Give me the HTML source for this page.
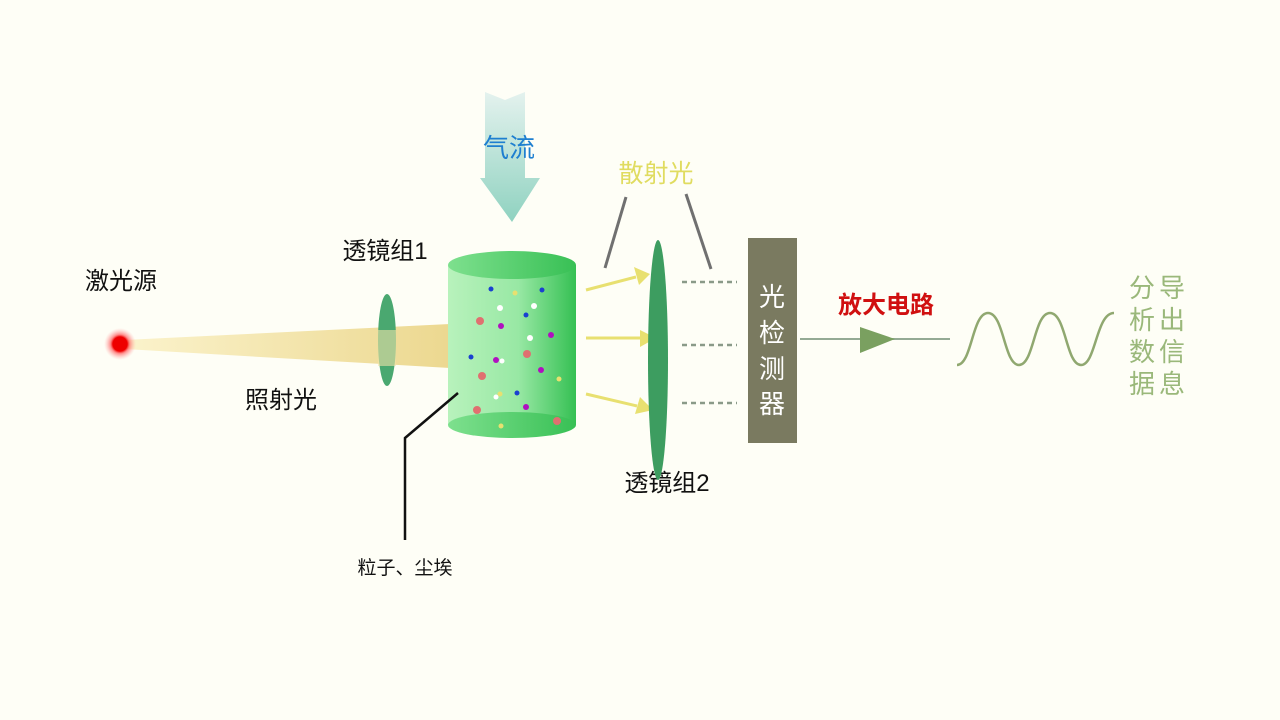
<!DOCTYPE html>
<html><head><meta charset="utf-8"><style>
html,body{margin:0;padding:0;background:#fefef6;}
svg{display:block}
text{font-family:"Liberation Sans","Noto Sans CJK SC",sans-serif;}
</style></head><body>
<svg width="1280" height="720" viewBox="0 0 1280 720" xmlns="http://www.w3.org/2000/svg">
<defs>
<linearGradient id="air" x1="0" y1="0" x2="0" y2="1"><stop offset="0" stop-color="#e4f2ee"/><stop offset="1" stop-color="#8fd2c0"/></linearGradient>
<linearGradient id="beam" x1="0" y1="0" x2="1" y2="0"><stop offset="0" stop-color="#fbf3cc"/><stop offset="1" stop-color="#ecd890"/></linearGradient>
<linearGradient id="cyl" x1="0" y1="0" x2="1" y2="0"><stop offset="0" stop-color="#b8f2bc"/><stop offset="0.55" stop-color="#98e8a4"/><stop offset="1" stop-color="#35c053"/></linearGradient>
<linearGradient id="cyltop" x1="0" y1="0" x2="1" y2="0"><stop offset="0" stop-color="#7ee08e"/><stop offset="1" stop-color="#38c055"/></linearGradient>
<radialGradient id="glow"><stop offset="0.45" stop-color="#ee0000"/><stop offset="0.6" stop-color="#ff6060" stop-opacity="0.7"/><stop offset="1" stop-color="#ffb0b0" stop-opacity="0"/></radialGradient>
</defs>
<path d="M485,92 L505,100 L525,92 L525,178 L540,178 L512,222 L480,178 L485,178 Z" fill="url(#air)"/>
<text x="509" y="157" font-size="26" fill="#1e7fd0" text-anchor="middle">气流</text>
<text x="121" y="289" font-size="24" fill="#111" text-anchor="middle">激光源</text>
<text x="385" y="259" font-size="24" fill="#111" text-anchor="middle">透镜组1</text>
<text x="281" y="408" font-size="24" fill="#111" text-anchor="middle">照射光</text>
<text x="667" y="491" font-size="24" fill="#111" text-anchor="middle">透镜组2</text>
<text x="405" y="574" font-size="19" fill="#111" text-anchor="middle">粒子、尘埃</text>
<polygon points="124,340 450,324 450,368 124,349" fill="url(#beam)"/>
<circle cx="120" cy="344" r="16" fill="url(#glow)"/>
<ellipse cx="387" cy="340" rx="9" ry="46" fill="#4aa870"/>
<rect x="378" y="330" width="18" height="36" fill="#f0e2a8" opacity="0.6"/>
<rect x="448" y="265" width="128" height="160" fill="url(#cyl)"/>
<ellipse cx="512" cy="425" rx="64" ry="13" fill="url(#cyltop)"/>
<ellipse cx="512" cy="265" rx="64" ry="14" fill="url(#cyltop)"/>
<g>
<circle cx="491" cy="289" r="2.5" fill="#1a40d0"/><circle cx="515" cy="293" r="2.5" fill="#e8e070"/>
<circle cx="542" cy="290" r="2.5" fill="#1a40d0"/><circle cx="500" cy="308" r="3" fill="#fff"/>
<circle cx="534" cy="306" r="3" fill="#fff"/><circle cx="526" cy="315" r="2.5" fill="#1a40d0"/>
<circle cx="480" cy="321" r="4" fill="#e07070"/><circle cx="501" cy="326" r="3" fill="#b010c0"/>
<circle cx="530" cy="338" r="3" fill="#fff"/><circle cx="551" cy="335" r="3" fill="#b010c0"/>
<circle cx="471" cy="357" r="2.5" fill="#1a40d0"/><circle cx="496" cy="360" r="3" fill="#b010c0"/>
<circle cx="502" cy="361" r="2.5" fill="#fff"/><circle cx="527" cy="354" r="4" fill="#e07070"/>
<circle cx="482" cy="376" r="4" fill="#e07070"/><circle cx="541" cy="370" r="3" fill="#b010c0"/>
<circle cx="559" cy="379" r="2.5" fill="#e8e070"/><circle cx="500" cy="394" r="2.5" fill="#e8e070"/>
<circle cx="496" cy="397" r="2.5" fill="#fff"/><circle cx="517" cy="393" r="2.5" fill="#1a40d0"/>
<circle cx="477" cy="410" r="4" fill="#e07070"/><circle cx="526" cy="407" r="3" fill="#b010c0"/>
<circle cx="557" cy="421" r="4" fill="#e07070"/><circle cx="501" cy="426" r="2.5" fill="#e8e070"/>
</g>
<polyline points="458,393 405,438 405,540" fill="none" stroke="#111" stroke-width="2.5"/>
<g stroke="#e8e070" stroke-width="3" fill="#e8e070">
<line x1="586" y1="290" x2="636" y2="277"/><polygon points="634,267 650,274 639,285" stroke="none"/>
<line x1="586" y1="338" x2="640" y2="338"/><polygon points="640,330 656,338 640,347" stroke="none"/>
<line x1="586" y1="394" x2="637" y2="406"/><polygon points="640,397 653,410 635,414" stroke="none"/>
</g>
<ellipse cx="658" cy="360" rx="10" ry="120" fill="#3d9d60"/>
<g stroke="#8a9a88" stroke-width="2.5" stroke-dasharray="5,4">
<line x1="682" y1="282" x2="737" y2="282"/><line x1="682" y1="345" x2="737" y2="345"/><line x1="682" y1="403" x2="737" y2="403"/>
</g>
<g stroke="#707070" stroke-width="3"><line x1="626" y1="197" x2="605" y2="268"/><line x1="686" y1="194" x2="711" y2="269"/></g>
<text x="656" y="182" font-size="25" fill="#e0dc60" text-anchor="middle">散射光</text>
<rect x="748" y="238" width="49" height="205" fill="#7a7a60"/>
<g font-size="26" fill="#fff" text-anchor="middle">
<text x="772" y="306">光</text><text x="772" y="342">检</text><text x="772" y="378">测</text><text x="772" y="413">器</text>
</g>
<line x1="800" y1="339" x2="950" y2="339" stroke="#94aa94" stroke-width="2"/>
<polygon points="860,327 860,353 895,339" fill="#7aa060"/>
<text x="886" y="313" font-size="24" font-weight="bold" fill="#d01010" text-anchor="middle">放大电路</text>
<path d="M957,365 C972,365 972,313 988,313 C1004,313 1004,365 1019,365 C1034,365 1034,313 1050,313 C1066,313 1066,365 1081,365 C1096,365 1096,313 1114,313" fill="none" stroke="#90a870" stroke-width="2.5"/>
<g font-size="26" fill="#9ab87a" text-anchor="middle">
<text x="1142" y="297">分</text><text x="1172" y="297">导</text>
<text x="1142" y="329">析</text><text x="1172" y="329">出</text>
<text x="1142" y="361">数</text><text x="1172" y="361">信</text>
<text x="1142" y="393">据</text><text x="1172" y="393">息</text>
</g>
</svg>
</body></html>
